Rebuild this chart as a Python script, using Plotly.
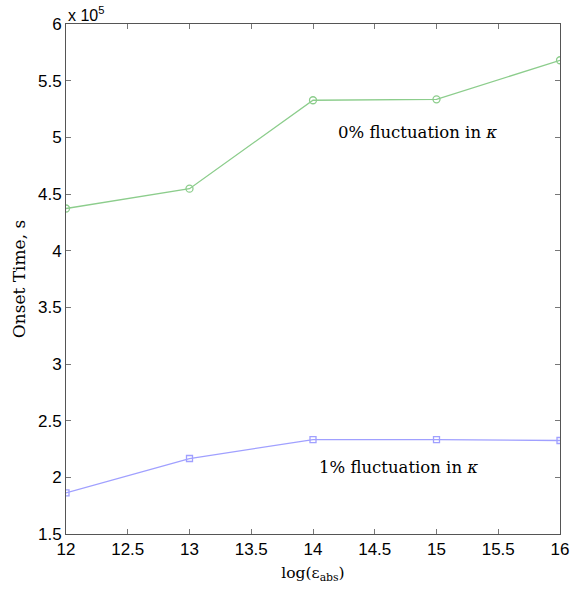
import plotly.graph_objects as go

log_eps = [12, 13, 14, 15, 16]
onset_0pct = [4.372, 4.547, 5.327, 5.335, 5.68]   # x 1e5 s
onset_1pct = [1.862, 2.166, 2.332, 2.332, 2.325]   # x 1e5 s
x_ticks = [12, 12.5, 13, 13.5, 14, 14.5, 15, 15.5, 16]
y_ticks = [1.5, 2, 2.5, 3, 3.5, 4, 4.5, 5, 5.5, 6]

green = "rgb(140,205,140)"
blue = "rgb(160,160,255)"

fig = go.Figure()
fig.add_trace(go.Scatter(x=log_eps, y=onset_0pct, mode="lines+markers",
                         line=dict(color=green, width=1.3),
                         marker=dict(symbol="circle-open", size=7, color=green, line=dict(width=1.3)),
                         showlegend=False))
fig.add_trace(go.Scatter(x=log_eps, y=onset_1pct, mode="lines+markers",
                         line=dict(color=blue, width=1.3),
                         marker=dict(symbol="square-open", size=6, color=blue, line=dict(width=1.3)),
                         showlegend=False))

axis_common = dict(showline=True, linecolor="#555", linewidth=1, mirror="ticks",
                   ticks="inside", ticklen=5, tickcolor="#777", showgrid=False, zeroline=False,
                   tickfont=dict(family="Liberation Sans, Arial", size=17, color="black"))

fig.update_xaxes(range=[12, 16], tickvals=x_ticks, ticktext=[f"{v:g}" for v in x_ticks],
                 title=dict(text="log(ε<sub>abs</sub>)", font=dict(family="DejaVu Serif", size=15.5, color="black"),
                            standoff=8),
                 **axis_common)
fig.update_yaxes(range=[1.5, 6], tickvals=y_ticks, ticktext=[f"{v:g}" for v in y_ticks],
                 title=dict(text="Onset Time, s", font=dict(family="DejaVu Serif", size=17, color="black"),
                            standoff=8),
                 **axis_common)

fig.add_annotation(x=14.85, y=5.04, text="0% fluctuation in <i>κ</i>", showarrow=False,
                   font=dict(family="DejaVu Serif", size=16.5, color="black"))
fig.add_annotation(x=14.69, y=2.086, text="1% fluctuation in <i>κ</i>", showarrow=False,
                   font=dict(family="DejaVu Serif", size=16.5, color="black"))
fig.add_annotation(xref="paper", yref="paper", x=0, y=1, xanchor="left", yanchor="bottom",
                   text="x 10<sup>5</sup>", showarrow=False, yshift=-2,
                   font=dict(family="Liberation Sans, Arial", size=16, color="black"))

fig.update_layout(width=581, height=590, margin=dict(l=66, r=19, t=24, b=56),
                  plot_bgcolor="white", paper_bgcolor="white")
fig.write_html("out.html")
